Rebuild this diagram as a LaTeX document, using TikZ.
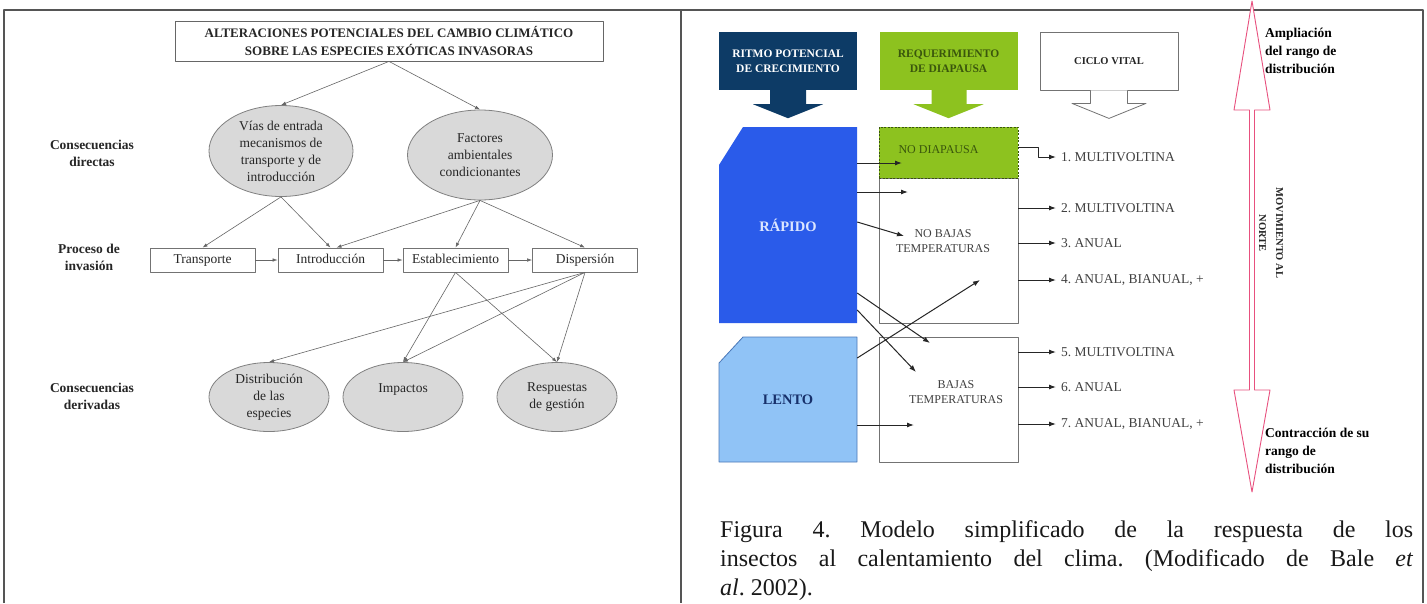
\documentclass[tikz,border=0pt]{standalone}
\usepackage{fontspec}
\setmainfont{Liberation Serif}
\usetikzlibrary{shapes.geometric,arrows.meta,positioning}
\definecolor{marco}{HTML}{555555}
\definecolor{elipse}{HTML}{D9D9D9}
\definecolor{ritmo}{HTML}{0D3B66}
\definecolor{diapausa}{HTML}{8DC21F}
\definecolor{oliva}{HTML}{3A560C}
\definecolor{rapido}{HTML}{2A5BEA}
\definecolor{rapidotxt}{HTML}{DCE6FF}
\definecolor{lento}{HTML}{90C3F6}
\definecolor{lentoborde}{HTML}{4A78B8}
\definecolor{lentotxt}{HTML}{17306B}
\definecolor{rosa}{HTML}{E8507E}
\frenchspacing

\begin{document}
\begin{tikzpicture}[x=1pt,y=-1pt,line join=round,
  frame/.style={draw=marco,line width=1.3pt},
  flecha/.style={-{Latex[length=5pt,width=3.5pt]},draw=black!60,line width=0.6pt},
  flechad/.style={-{Latex[length=7pt,width=5pt]},draw=black!85,line width=1pt},
  elip/.style={ellipse,draw=black!50,fill=elipse,line width=0.8pt,inner sep=0pt,align=center,
    text=black!85,font=\fontsize{13.5}{17}\selectfont},
  proc/.style={draw=black!55,line width=0.8pt,minimum width=105pt,minimum height=24pt,inner sep=0pt,
    text height=9.5pt,text depth=3pt,text=black!85,font=\fontsize{13.5}{16}\selectfont},
  lado/.style={align=center,text=black!85,font=\bfseries\fontsize{13.5}{17}\selectfont},
  cab/.style={minimum width=138pt,minimum height=58pt,align=center,inner sep=0pt,
    font=\bfseries\fontsize{11.5}{15}\selectfont},
  caja/.style={draw=black!55,line width=0.8pt,minimum width=139pt,inner sep=0pt},
  etq/.style={align=center,text=black!75,font=\fontsize{12}{15}\selectfont},
  bloque/.style={minimum width=138pt,inner sep=0pt,font=\bfseries\fontsize{14.5}{17}\selectfont},
  sal/.style={anchor=west,inner sep=0pt,text=black!75,font=\fontsize{13.5}{16}\selectfont},
  nota/.style={anchor=north west,inner sep=0pt,align=left,font=\bfseries\fontsize{13.5}{18}\selectfont}]
\useasboundingbox[fill=white] (0,0) rectangle (1427,603);

% marcos
\draw[frame] (4,603) -- (4,10) -- (681,10) -- (681,603);
\draw[frame] (681,10) -- (1423,10) -- (1423,603);

% panel izquierdo
\node[draw=black!60,line width=0.8pt,minimum width=428pt,minimum height=40pt,inner sep=0pt,align=center,
  text=black!85,font=\bfseries\fontsize{13}{18}\selectfont] (alter) at (389,41)
  {ALTERACIONES POTENCIALES DEL CAMBIO CLIMÁTICO\\SOBRE LAS ESPECIES EXÓTICAS INVASORAS};

\node[elip,minimum width=144pt,minimum height=91pt] (vias) at (281,151)
  {Vías de entrada\\mecanismos de\\transporte y de\\introducción};
\node[elip,minimum width=145pt,minimum height=90pt] (factores) at (480,155)
  {Factores\\ambientales\\condicionantes};

\node[proc] (transporte) at (202.5,260) {Transporte};
\node[proc] (introduccion) at (330.5,260) {Introducción};
\node[proc] (establec) at (455.5,260) {Establecimiento};
\node[proc] (dispersion) at (585,260) {Dispersión};

\node[elip,minimum width=120pt,minimum height=69pt] (distrib) at (269,397) {Distribución\\de las\\especies};
\node[elip,minimum width=120pt,minimum height=69pt] (impactos) at (403,397) {Impactos\\\phantom{x}};
\node[elip,minimum width=120pt,minimum height=69pt] (respuestas) at (557,397) {Respuestas\\de gestión};

\node[lado] (directas) at (92,153) {Consecuencias\\directas};
\node[lado] (proceso) at (89,257) {Proceso de\\invasión};
\node[lado] (derivadas) at (92,396) {Consecuencias\\derivadas};

\draw[flecha] (alter.south) -- (vias.north);
\draw[flecha] (alter.south) -- (factores.north);
\draw[flecha] (vias.south) -- (transporte.north);
\draw[flecha] (vias.south) -- (introduccion.north);
\draw[flecha] (factores.south) -- ([xshift=6pt]introduccion.north);
\draw[flecha] (factores.south) -- (establec.north);
\draw[flecha] (factores.south) -- (dispersion.north);
\draw[flecha] (transporte) -- (introduccion);
\draw[flecha] (introduccion) -- (establec);
\draw[flecha] (establec) -- (dispersion);
\draw[flecha] (establec.south) -- (impactos.north);
\draw[flecha] (establec.south) -- (respuestas.north);
\draw[flecha] (dispersion.south) -- (distrib.north);
\draw[flecha] (dispersion.south) -- (impactos.north);
\draw[flecha] (dispersion.south) -- (respuestas.north);

% panel derecho: cabeceras
\node[cab,fill=ritmo,text=white] (ritmo) at (788,61) {RITMO POTENCIAL\\DE CRECIMIENTO};
\fill[ritmo] ([xshift=-18pt,yshift=0.5pt]ritmo.south) -- ++(0,14.5) -- ++(-17,0) -- ([yshift=-28pt]ritmo.south)
  -- ++(35,-14) -- ++(-17,0) -- ++(0,-14.5) -- cycle;
\node[cab,fill=diapausa,text=oliva] (requer) at (948.5,61) {REQUERIMIENTO\\DE DIAPAUSA};
\fill[diapausa] ([xshift=-17pt,yshift=0.5pt]requer.south) -- ++(0,14.5) -- ++(-18,0) -- ([yshift=-28pt]requer.south)
  -- ++(35,-14) -- ++(-17,0) -- ++(0,-14.5) -- cycle;
\node[cab,draw=black!55,line width=0.8pt,fill=white,text=black!85,font=\bfseries\fontsize{10.5}{13}\selectfont]
  (ciclo) at (1109,61) {\raisebox{-6pt}{CICLO VITAL}};
\filldraw[fill=white,draw=black!55,line width=0.8pt] ([xshift=-18.5pt]ciclo.south) -- ++(0,13) -- ++(-18.5,0)
  -- ([yshift=-28pt]ciclo.south) -- ++(37,-15) -- ++(-18.5,0) -- ++(0,-13);

% bloques de crecimiento
\fill[rapido] (719,165) -- (743,127) -- (857,127) -- (857,323) -- (719,323) -- cycle;
\node[bloque,minimum height=196pt,text=rapidotxt] (rapido) at (788,225) {RÁPIDO};
\filldraw[fill=lento,draw=lentoborde,line width=0.8pt] (719,363) -- (743,337) -- (857,337) -- (857,462) -- (719,462) -- cycle;
\node[bloque,minimum height=125pt,text=lentotxt] (lento) at (788,399.5) {LENTO};

% requerimiento de diapausa
\node[caja,minimum height=145pt] (nobajas) at (948.5,250.5) {};
\node[etq] (nobajaslbl) at (943,241) {NO BAJAS\\TEMPERATURAS};
\node[caja,minimum height=51pt,fill=diapausa,draw=oliva,dash pattern=on 2pt off 1.5pt,
  text=oliva,font=\fontsize{12}{15}\selectfont] (nodiap) at (948.5,152.5) {\raisebox{5pt}{NO DIAPAUSA\hspace{20pt}}};
\node[caja,minimum height=125pt] (bajas) at (948.5,399.5) {};
\node[etq] (bajaslbl) at (956,392) {BAJAS\\TEMPERATURAS};

\coordinate (t1) at (902,163);
\coordinate (t2) at (908,192);
\coordinate (t3) at (904,236);
\coordinate (t4) at (930,343);
\coordinate (t5) at (916,372);
\coordinate (t6) at (980,280);
\coordinate (t7) at (914,425);
\draw[flechad] (rapido.east |- t1) -- (t1);
\draw[flechad] (rapido.east |- t2) -- (t2);
\draw[flechad] ([yshift=3pt]rapido.east) -- (t3);
\draw[flechad] ([yshift=-68pt]rapido.east) -- (t4);
\draw[flechad] ([yshift=-85pt]rapido.east) -- (t5);
\draw[flechad] ([yshift=41.5pt]lento.east) -- (t6);
\draw[flechad] (lento.east |- t7) -- (t7);

% ciclo vital
\node[sal] (c1) at (1061,157) {1. MULTIVOLTINA};
\node[sal] (c2) at (1061,208) {2. MULTIVOLTINA};
\node[sal] (c3) at (1061,243) {3. ANUAL};
\node[sal] (c4) at (1061,280) {4. ANUAL, BIANUAL, +};
\node[sal] (c5) at (1061,352) {5. MULTIVOLTINA};
\node[sal] (c6) at (1061,387) {6. ANUAL};
\node[sal] (c7) at (1061,424) {7. ANUAL, BIANUAL, +};
\draw[flechad] ([yshift=5pt]nodiap.east) -- ++(20,0) |- ([xshift=-5pt]c1.west);
\draw[flechad] (nobajas.east |- c2) -- ([xshift=-5pt]c2.west);
\draw[flechad] (nobajas.east |- c3) -- ([xshift=-5pt]c3.west);
\draw[flechad] (nobajas.east |- c4) -- ([xshift=-5pt]c4.west);
\draw[flechad] (bajas.east |- c5) -- ([xshift=-5pt]c5.west);
\draw[flechad] (bajas.east |- c6) -- ([xshift=-5pt]c6.west);
\draw[flechad] (bajas.east |- c7) -- ([xshift=-5pt]c7.west);

% movimiento al norte
\filldraw[fill=white,draw=rosa,line width=0.9pt] (1252,1) -- (1270,110) -- (1254.5,110) -- (1254.5,390) -- (1270,390)
  -- (1252,492) -- (1234,390) -- (1249.5,390) -- (1249.5,110) -- (1234,110) -- cycle;
\node[align=center,rotate=-90,text=black!85,font=\bfseries\fontsize{10.5}{17}\selectfont] (norte) at (1271,233)
  {MOVIMIENTO AL\\NORTE};
\node[nota] (ampliacion) at (1265,28) {Ampliación\\del rango de\\distribución};
\node[nota] (contraccion) at (1265,428) {Contracción de su\\rango de\\distribución};

% pie de figura
\node[anchor=north west,inner sep=0pt,text width=693pt,align=justify,text=black!90,
  font=\fontsize{24}{29}\selectfont] (pie) at (720,520)
  {Figura 4. Modelo simplificado de la respuesta de los\linebreak
   insectos al calentamiento del clima. (Modificado de Bale \textit{et}\linebreak
   \textit{al}. 2002).};
\end{tikzpicture}
\end{document}
